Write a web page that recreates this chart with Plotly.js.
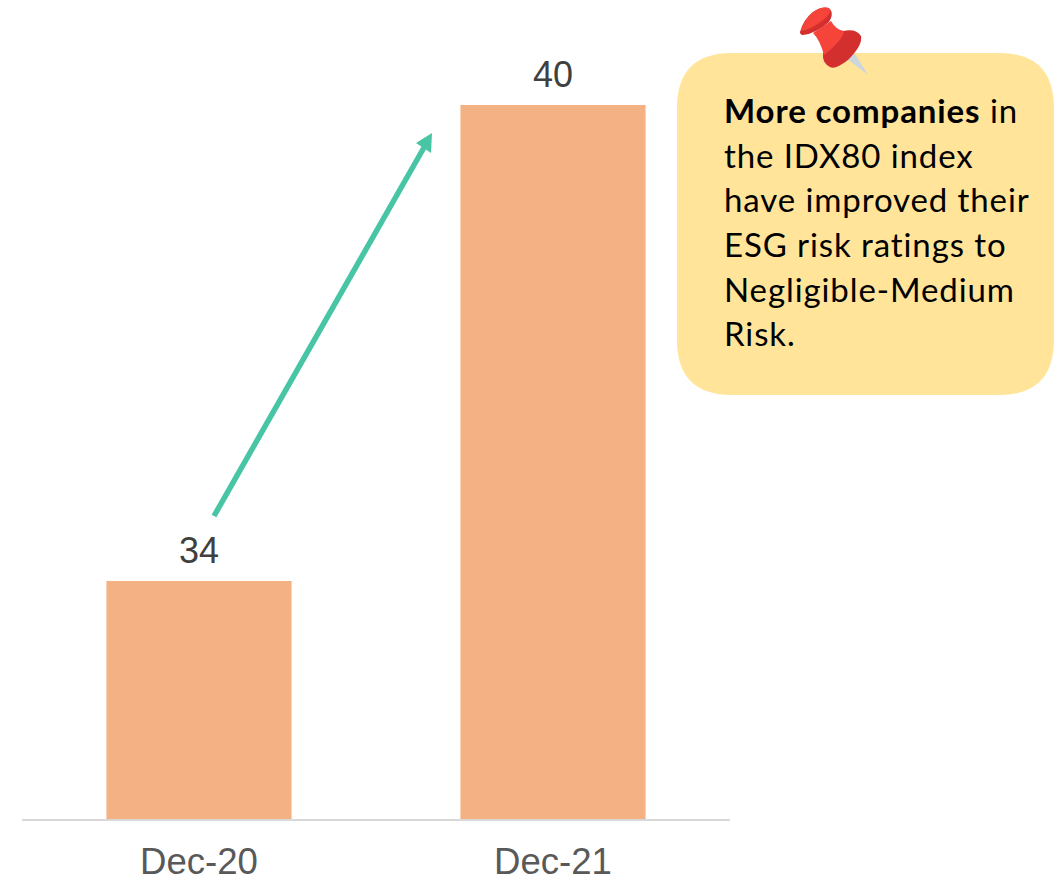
<!DOCTYPE html>
<html><head><meta charset="utf-8">
<script src="https://cdn.plot.ly/plotly-3.0.1.min.js"></script>
<style>html,body{margin:0;padding:0;background:#fff;overflow:hidden}
.annotation-text[style*="Lato"]{letter-spacing:.9px;font-variant-ligatures:none}</style>
</head><body><div id="chart" style="width:1061px;height:879px"></div>
<script>
const categories = ['Dec-20', 'Dec-21'];
const values = [34, 40];
const calloutLines = ['<b>More companies</b> in', 'the IDX80 index', 'have improved their', 'ESG risk ratings to', 'Negligible-Medium', 'Risk.'];

// page pixel -> paper coordinates (plot area spans x 22..730, y 0..819)
const PL = 22, PW = 708, PH = 819;
const X = x => (x - PL) / PW;
const Y = y => 1 - y / PH;
function P(str) { // "M x y L x y ..." in page pixels
  const t = str.trim().split(/\s+/); let out = [], isX = true;
  for (const k of t) {
    if (/^[MLQCZ]$/.test(k)) { out.push(k); isX = true; }
    else { out.push(isX ? X(+k) : Y(+k)); isX = !isX; }
  }
  return out.join(' ').replace(/([MLQC]) /g, '$1');
}
function fill(d, color) {
  return {type:'path', xref:'paper', yref:'paper', path:P(d), fillcolor:color, line:{width:0}, layer:'above'};
}
const shapes = [
  fill('M 732 53 L 999 53 Q 1054 53 1054 108 L 1054 340 Q 1054 395 999 395 L 732 395 Q 677 395 677 340 L 677 108 Q 677 53 732 53 Z', '#FFE499'),
  // arrow
  {type:'line', xref:'paper', yref:'paper', x0:X(214), y0:Y(516), x1:X(426), y1:Y(144), line:{color:'#48C5A5', width:5.5}, layer:'above'},
  fill('M 432 133 L 416 143 L 431 153 Z', '#48C5A5'),
  // pin needle
  fill('M 846 58 L 855 54 L 868 75 Z', '#CCD6DD'),
  // pin flange
  fill('M 823 53 Q 842 38 843 31 Q 856 28 861 36 Q 863 45 848 60 Q 835 70 830 67 Q 822 63 823 53 Z', '#D32F2F'),
  // pin neck
  fill('M 813 33 L 831 21 Q 836 30 844 31 Q 843 40 824 55 Q 820 40 813 33 Z', '#F7443A'),
  // pin cap
  fill('M 800 32 Q 803 20 813 12 Q 824 5 830 9 Q 834 14 829 22 Q 815 34 803 35 Q 800 35 800 32 Z', '#D32F2F'),
  fill('M 801 31 Q 804 20 813 12 Q 824 5 830 9 Q 831 14 822 21 Q 810 30 801 31 Z', '#F7443A')
];
const lineTops = [122, 167, 211, 256, 301, 345];
const annotations = [];
categories.forEach((c, i) => annotations.push({
  x:c, y:values[i], xref:'x', yref:'y', text:String(values[i]), showarrow:false,
  yanchor:'bottom', yshift:8, font:{family:'Liberation Sans, Arial, sans-serif', size:36, color:'#404040'}
}));
calloutLines.forEach((t, i) => annotations.push({
  x:X(723), y:Y(lineTops[i] + 9), xref:'paper', yref:'paper', xanchor:'left', yanchor:'bottom',
  text:t, showarrow:false, align:'left', borderpad:0, font:{family:'Lato, sans-serif', size:33, color:'#000000'}
}));

Plotly.newPlot('chart', [{
  type:'bar', x:categories, y:values, marker:{color:'#F4B183', line:{width:0}}, width:0.523, hoverinfo:'skip'
}], {
  width:1061, height:879, autosize:false,
  margin:{l:PL, r:1061-PL-PW, t:0, b:879-PH, pad:0},
  paper_bgcolor:'#ffffff', plot_bgcolor:'#ffffff', showlegend:false,
  xaxis:{type:'category', range:[-0.5,1.5], showgrid:false, zeroline:false, showline:true, linecolor:'#D9D9D9', linewidth:2,
    ticks:'outside', ticklen:9, tickcolor:'rgba(0,0,0,0)', tickfont:{family:'Liberation Sans, Arial, sans-serif', size:36.6, color:'#595959'}},
  yaxis:{range:[31, 31 + PH/79.33], visible:false, showgrid:false, zeroline:false},
  shapes, annotations
}, {displayModeBar:false, staticPlot:true});
</script></body></html>
